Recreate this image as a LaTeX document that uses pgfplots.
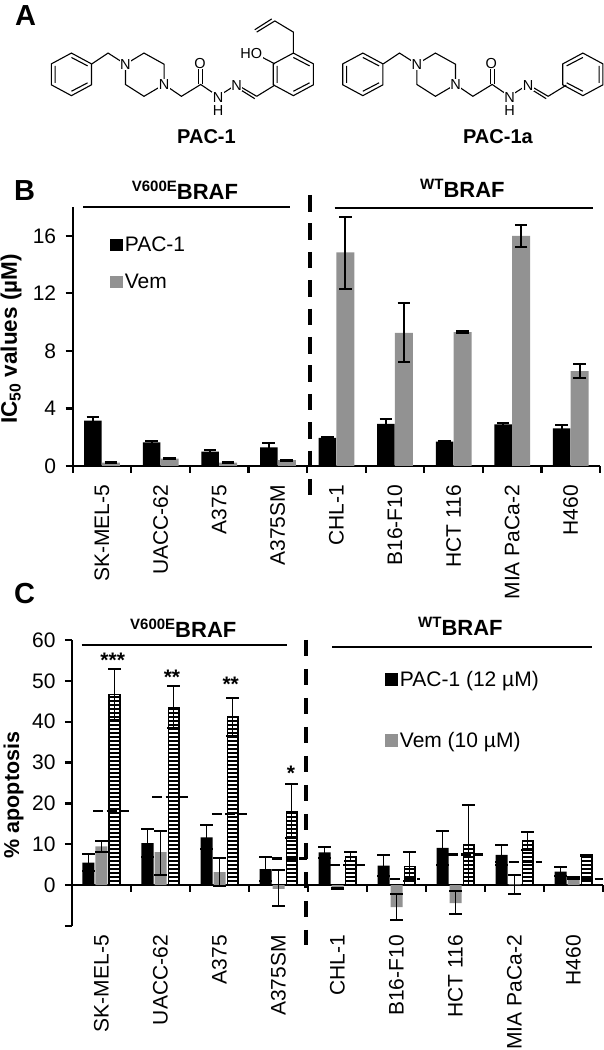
\documentclass[border=0pt]{standalone}
\usepackage{fontspec}
\setmainfont{Liberation Sans}
\usepackage{pgfplots}
\usepackage{pgfplotstable}
\usetikzlibrary{patterns}
\pgfplotsset{compat=1.18}
\newcommand{\fs}[1]{\fontsize{#1}{#1}\selectfont}
\definecolor{vem}{HTML}{929292}
\pgfdeclarepatternformonly{stripes}{\pgfqpoint{-1pt}{-1pt}}{\pgfqpoint{5pt}{5pt}}{\pgfqpoint{4pt}{4pt}}{%
  \pgfsetlinewidth{2pt}%
  \pgfpathmoveto{\pgfqpoint{-1pt}{1pt}}%
  \pgfpathlineto{\pgfqpoint{5pt}{1pt}}%
  \pgfusepath{stroke}%
}

% panel B: x y err+ err-
\pgfplotstableread{
x y ep em
0 3.15 0.28 0.28
1 1.65 0.10 0.10
2 1.00 0.10 0.10
3 1.30 0.27 0.27
4 1.95 0.09 0.09
5 2.92 0.35 0.35
6 1.70 0.06 0.06
7 2.90 0.10 0.10
8 2.62 0.23 0.23
}\bpac
\pgfplotstableread{
x y ep em
0 0.23 0.02 0.02
1 0.52 0.03 0.03
2 0.23 0.02 0.02
3 0.40 0.03 0.03
4 14.84 2.46 2.54
5 9.25 2.05 2.05
6 9.30 0.07 0.07
7 16.00 0.72 0.78
8 6.60 0.50 0.50
}\bvem

% panel C
\pgfplotstableread{
x y ep em
0 5.5 2.1 2.1
1 10.3 3.4 3.5
2 11.7 3.0 2.9
3 3.9 2.9 2.9
4 8.0 1.3 1.4
5 4.8 2.5 2.5
6 9.1 4.1 4.1
7 7.4 2.5 2.4
8 3.3 1.1 1.0
}\cpac
\pgfplotstableread{
x y ep em
0 9.5 1.4 1.3
1 8.1 5.1 5.6
2 3.2 3.4 3.5
3 -0.9 4.7 4.3
4 -0.8 0.2 0.2
5 -5.4 3.3 3.1
6 -4.4 2.9 2.7
7 0.2 2.2 2.3
8 1.7 0.3 0.3
}\cvem
\pgfplotstableread{
x y ep em
0 46.7 6.1 6.3
1 43.5 5.3 5.1
2 41.2 4.7 4.6
3 18.0 6.8 6.5
4 7.0 1.2 1.2
5 4.6 3.5 3.6
6 9.9 9.7 9.9
7 10.8 2.2 2.2
8 7.2 0.2 0.2
}\ccom
\pgfplotstableread{
x y
-0.14 18.2
0.47 18.2
nan nan
0.86 21.5
1.47 21.5
nan nan
1.87 17.4
2.47 17.4
nan nan
2.89 6.5
3.48 6.5
nan nan
3.87 5.0
4.47 5.0
nan nan
4.89 1.6
5.40 1.6
nan nan
5.87 7.5
6.47 7.5
nan nan
6.67 5.6
7.47 5.6
nan nan
7.90 1.6
8.50 1.6
}\cadd
% ticks at the category boundaries, as short line pieces (b: panel B, c: panel C)
\pgfplotstableread{
x b c
-0.5 0 0
-0.5 -0.48 0
nan nan nan
0.5 0 0
0.5 -0.48 -1.7
nan nan nan
1.5 0 0
1.5 -0.48 -1.7
nan nan nan
2.5 0 0
2.5 -0.48 -1.7
nan nan nan
3.5 0 0
3.5 -0.48 -1.7
nan nan nan
4.5 0 0
4.5 -0.48 -1.7
nan nan nan
5.5 0 0
5.5 -0.48 -1.7
nan nan nan
6.5 0 0
6.5 -0.48 -1.7
nan nan nan
7.5 0 0
7.5 -0.48 -1.7
nan nan nan
8.5 0 0
8.5 -0.48 -1.7
}\gapticks

\pgfplotsset{
  panel/.style={
    scale only axis, clip=false,
    xmin=-0.5, xmax=8.5,
    axis y line=left,
    every outer y axis line/.append style={-, line width=2.4pt},
    tick align=outside,
    major tick length=7pt,
    ytick style={black, line width=2.2pt},
    xtick={0,...,8},
    xticklabels={SK-MEL-5,UACC-62,A375,A375SM,CHL-1,B16-F10,HCT 116,MIA PaCa-2,H460},
    xtick style={draw=none},
    tick label style={font=\fs{21}},
    yticklabel style={xshift=-6pt},
    /pgf/number format/assume math mode=true,
    legend cell align=left,
    ylabel style={anchor=center},
  },
  ebar/.style={
    error bars/.cd, y dir=both, y explicit,
    error bar style={black, line width=1.9pt, xshift=#1},
    error mark options={black, line width=1.9pt, rotate=90, mark size=6.3pt},
  },
  sq/.style={legend image code/.code={\fill[##1] (0pt,-6pt) rectangle (13pt,6.5pt);}},
}

\newcommand{\ring}{%
  \draw (0,-63)--(52,-31)--(52,31)--(0,63)--(-52,31)--(-52,-31)--cycle;
  \draw (-42,-25)--(-42,25) (0,-50)--(42,-25) (42,25)--(0,50);
}
\newcommand{\pacbody}{%
  \begin{scope}[shift={(185,220)}]\ring\end{scope}
  \draw (238,189)--(280,157)--(325,190);
  \draw (325,190)--(373,157)--(425,190)--(425,250)--(373,285)--(325,250)--cycle;
  \draw (425,250)--(470,285)--(520,250)--(565,285)--(613,250)--(665,285);
  \draw (515,250)--(515,205) (525,250)--(525,205);
  \draw (618,262)--(660,292);
  \draw (565,285)--(565,305);
  \node[atom] at (325,190) {N};
  \node[atom] at (425,250) {N};
  \node[atom] at (518,188) {O};
  \node[atom] at (565,288) {N};
  \node[atom] at (565,326) {H};
  \node[atom] at (613,252) {N};
}

\begin{document}
\begin{tikzpicture}
\path[use as bounding box] (0pt,0pt) rectangle (603pt,1050pt);

% panel B
\begin{axis}[panel,
  at={(72.7pt,584pt)}, anchor=south west,
  width=527.3pt, height=259pt,
  ymin=0, ymax=18, ytick={0,4,...,16},
  axis x line=bottom,
  every outer x axis line/.append style={-, line width=2.4pt},
  xticklabel style={yshift=-12pt, rotate=90, anchor=east},
  ylabel={IC\textsubscript{50} values (µM)},
  ylabel style={font=\fs{22.5}\bfseries, at={(axis description cs:-0.117,0.49)}},
  legend style={at={(axis cs:0.13,16.05)}, anchor=north west, draw=none, fill=none,
    inner sep=0pt, row sep=17pt, font=\fs{21}},
]
\addlegendimage{sq, fill=black, draw=none}
\addlegendentry{PAC-1}
\addlegendimage{sq, fill=vem, draw=none}
\addlegendentry{Vem}
\addplot+[forget plot, ybar, bar width=17.5pt, bar shift=-9pt, fill=black, draw=none, mark=none, ebar=-9pt]
  table[x=x, y=y, y error plus=ep, y error minus=em] {\bpac};
\addplot+[forget plot, ybar, bar width=18pt, bar shift=9pt, fill=vem, draw=none, mark=none, ebar=9pt]
  table[x=x, y=y, y error plus=ep, y error minus=em] {\bvem};
\addplot[forget plot, sharp plot, black, line width=2.2pt, unbounded coords=jump]
  table[x=x, y=b] {\gapticks};
\end{axis}

% panel C
\begin{axis}[panel,
  at={(72pt,124pt)}, anchor=south west,
  width=531pt, height=286pt,
  ymin=-10, ymax=60, ytick={-10,0,...,60},
  yticklabels={,0,10,20,30,40,50,60},
  axis x line=middle,
  every inner x axis line/.append style={-, line width=2.4pt},
  xticklabel style={yshift=-43pt, rotate=90, anchor=east},
  ylabel={\% apoptosis},
  ylabel style={font=\fs{21.5}\bfseries, at={(axis description cs:-0.11,0.458)}},
  legend style={at={(axis cs:4.8,52.8)}, anchor=north west, draw=none, fill=none,
    inner sep=0pt, row sep=40pt, font=\fs{21}},
]
\addlegendimage{sq, fill=black, draw=none}
\addlegendentry{PAC-1 (12 µM)}
\addlegendimage{sq, fill=vem, draw=none}
\addlegendentry{Vem (10 µM)}
\addplot+[forget plot, ybar, bar width=12pt, bar shift=-13pt, fill=black, draw=none, mark=none, ebar=-13pt]
  table[x=x, y=y, y error plus=ep, y error minus=em] {\cpac};
\addplot+[forget plot, ybar, bar width=12pt, bar shift=0pt, fill=vem, draw=none, mark=none, ebar=0pt]
  table[x=x, y=y, y error plus=ep, y error minus=em] {\cvem};
\addplot+[forget plot, ybar, bar width=10.5pt, bar shift=13pt, draw=black, line width=1.5pt, mark=none,
    pattern=stripes, pattern color=black, ebar=13pt]
  table[x=x, y=y, y error plus=ep, y error minus=em] {\ccom};
\addplot[forget plot, sharp plot, black, line width=2.2pt, dash pattern=on 10pt off 3.5pt, unbounded coords=jump]
  table[x=x, y=y] {\cadd};
\addplot[forget plot, sharp plot, black, line width=2.2pt, unbounded coords=jump]
  table[x=x, y=c] {\gapticks};
\end{axis}

% labels and group lines, in reference pixels
\begin{scope}[shift={(0pt,1050pt)}, x=1pt, y=-1pt]
  \node[anchor=base west, inner sep=0pt, font=\fs{29}\bfseries] at (15,26) {A};
  \node[anchor=base west, inner sep=0pt, font=\fs{29}\bfseries] at (14,201) {B};
  \node[anchor=base west, inner sep=0pt, font=\fs{29}\bfseries] at (14,604) {C};
  \node[anchor=base west, inner sep=0pt, font=\fs{22}\bfseries] at (131.7,200) {\raisebox{8pt}{\fs{15}V600E}BRAF};
  \node[anchor=base west, inner sep=0pt, font=\fs{22}\bfseries] at (420,198) {\raisebox{8pt}{\fs{15}WT}BRAF};
  \node[anchor=base west, inner sep=0pt, font=\fs{22}\bfseries] at (130,638) {\raisebox{8pt}{\fs{15}V600E}BRAF};
  \node[anchor=base west, inner sep=0pt, font=\fs{22}\bfseries] at (418,636) {\raisebox{8pt}{\fs{15}WT}BRAF};
  \draw[line width=2.2pt] (83.3,207)--(290,207) (334.7,207.7)--(593,207.7);
  \draw[line width=2.2pt] (81.7,645)--(287,645) (332,646.7)--(591.5,646.7);
  \draw[line width=3.5pt, dash pattern=on 16.7pt off 11.7pt] (310,195)--(310,495);
  \draw[line width=3.5pt, dash pattern=on 16pt off 13pt] (306,640)--(306,945);
  \node[font=\fs{21}\bfseries] at (112.7,660) {***};
  \node[font=\fs{21}\bfseries] at (172,677) {**};
  \node[font=\fs{21}\bfseries] at (230.7,684) {**};
  \node[font=\fs{21}\bfseries] at (291,773) {*};
\end{scope}

% structures
\begin{scope}[shift={(0pt,1050pt)}, x=0.386pt, y=-0.338pt, line width=1.1pt,
    atom/.style={font=\fs{14.5}, fill=white, inner sep=0.6pt}]
  % PAC-1
  \pacbody
  \draw (665,285)--(712,252);
  \begin{scope}[shift={(760,220)}]\ring\end{scope}
  \draw (760,157)--(760,95)--(712,62)--(665,95) (704,56)--(660,88);
  \draw (712,189)--(680,170);
  \node[atom, anchor=east] at (682,158) {HO};
  \node[font=\fs{20}\bfseries] at (535,405) {PAC-1};
  % PAC-1a
  \begin{scope}[shift={(755,0)}]
    \pacbody
    \draw (665,285)--(712,252);
    \begin{scope}[shift={(755,220)}, xscale=-1]\ring\end{scope}
    \node[font=\fs{20}\bfseries] at (535,405) {PAC-1a};
  \end{scope}
\end{scope}
\end{tikzpicture}
\end{document}
